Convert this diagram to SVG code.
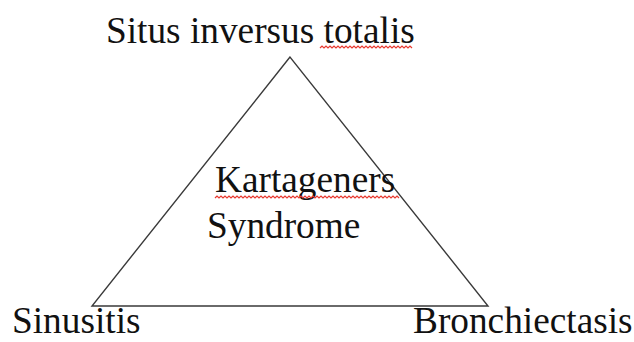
<svg xmlns="http://www.w3.org/2000/svg" width="634" height="342" viewBox="0 0 634 342">
<style>
text{font-family:"Liberation Serif","Times New Roman",serif;font-size:37.3px;fill:#111}
.sq{fill:none;stroke:#e8392f;stroke-width:1.2}
</style>
<rect width="634" height="342" fill="#fff"/>
<g id="connectors">
<polygon points="290,57 92,306 488,306" fill="none" stroke="#3a3a3a" stroke-width="1.4" stroke-linejoin="miter"/>
</g>
<g id="top"><text x="106" y="43">Situs inversus totalis</text>
<path class="sq" d="M320,48 l2,-2 l2,2 l2,-2 l2,2 l2,-2 l2,2 l2,-2 l2,2 l2,-2 l2,2 l2,-2 l2,2 l2,-2 l2,2 l2,-2 l2,2 l2,-2 l2,2 l2,-2 l2,2 l2,-2 l2,2 l2,-2 l2,2 l2,-2 l2,2 l2,-2 l2,2 l2,-2 l2,2 l2,-2 l2,2 l2,-2 l2,2 l2,-2 l2,2 l2,-2 l2,2 l2,-2 l2,2 l2,-2 l2,2 l2,-2 l2,2 l2,-2 l2,2"/></g>
<g id="center"><text x="215" y="192">Kartageners</text>
<text x="207" y="238">Syndrome</text>
<path class="sq" d="M215,198 l2,-2 l2,2 l2,-2 l2,2 l2,-2 l2,2 l2,-2 l2,2 l2,-2 l2,2 l2,-2 l2,2 l2,-2 l2,2 l2,-2 l2,2 l2,-2 l2,2 l2,-2 l2,2 l2,-2 l2,2 l2,-2 l2,2 l2,-2 l2,2 l2,-2 l2,2 l2,-2 l2,2 l2,-2 l2,2 l2,-2 l2,2 l2,-2 l2,2 l2,-2 l2,2 l2,-2 l2,2 l2,-2 l2,2 l2,-2 l2,2 l2,-2 l2,2 l2,-2 l2,2 l2,-2 l2,2 l2,-2 l2,2 l2,-2 l2,2 l2,-2 l2,2 l2,-2 l2,2 l2,-2 l2,2 l2,-2 l2,2 l2,-2 l2,2 l2,-2 l2,2 l2,-2 l2,2 l2,-2 l2,2 l2,-2 l2,2 l2,-2 l2,2 l2,-2 l2,2 l2,-2 l2,2 l2,-2 l2,2 l2,-2 l2,2 l2,-2 l2,2 l2,-2 l2,2 l2,-2 l2,2 l2,-2 l2,2 l2,-2 l2,2"/></g>
<g id="left"><text x="12" y="333">Sinusitis</text></g>
<g id="right"><text x="413" y="333">Bronchiectasis</text></g>
</svg>
